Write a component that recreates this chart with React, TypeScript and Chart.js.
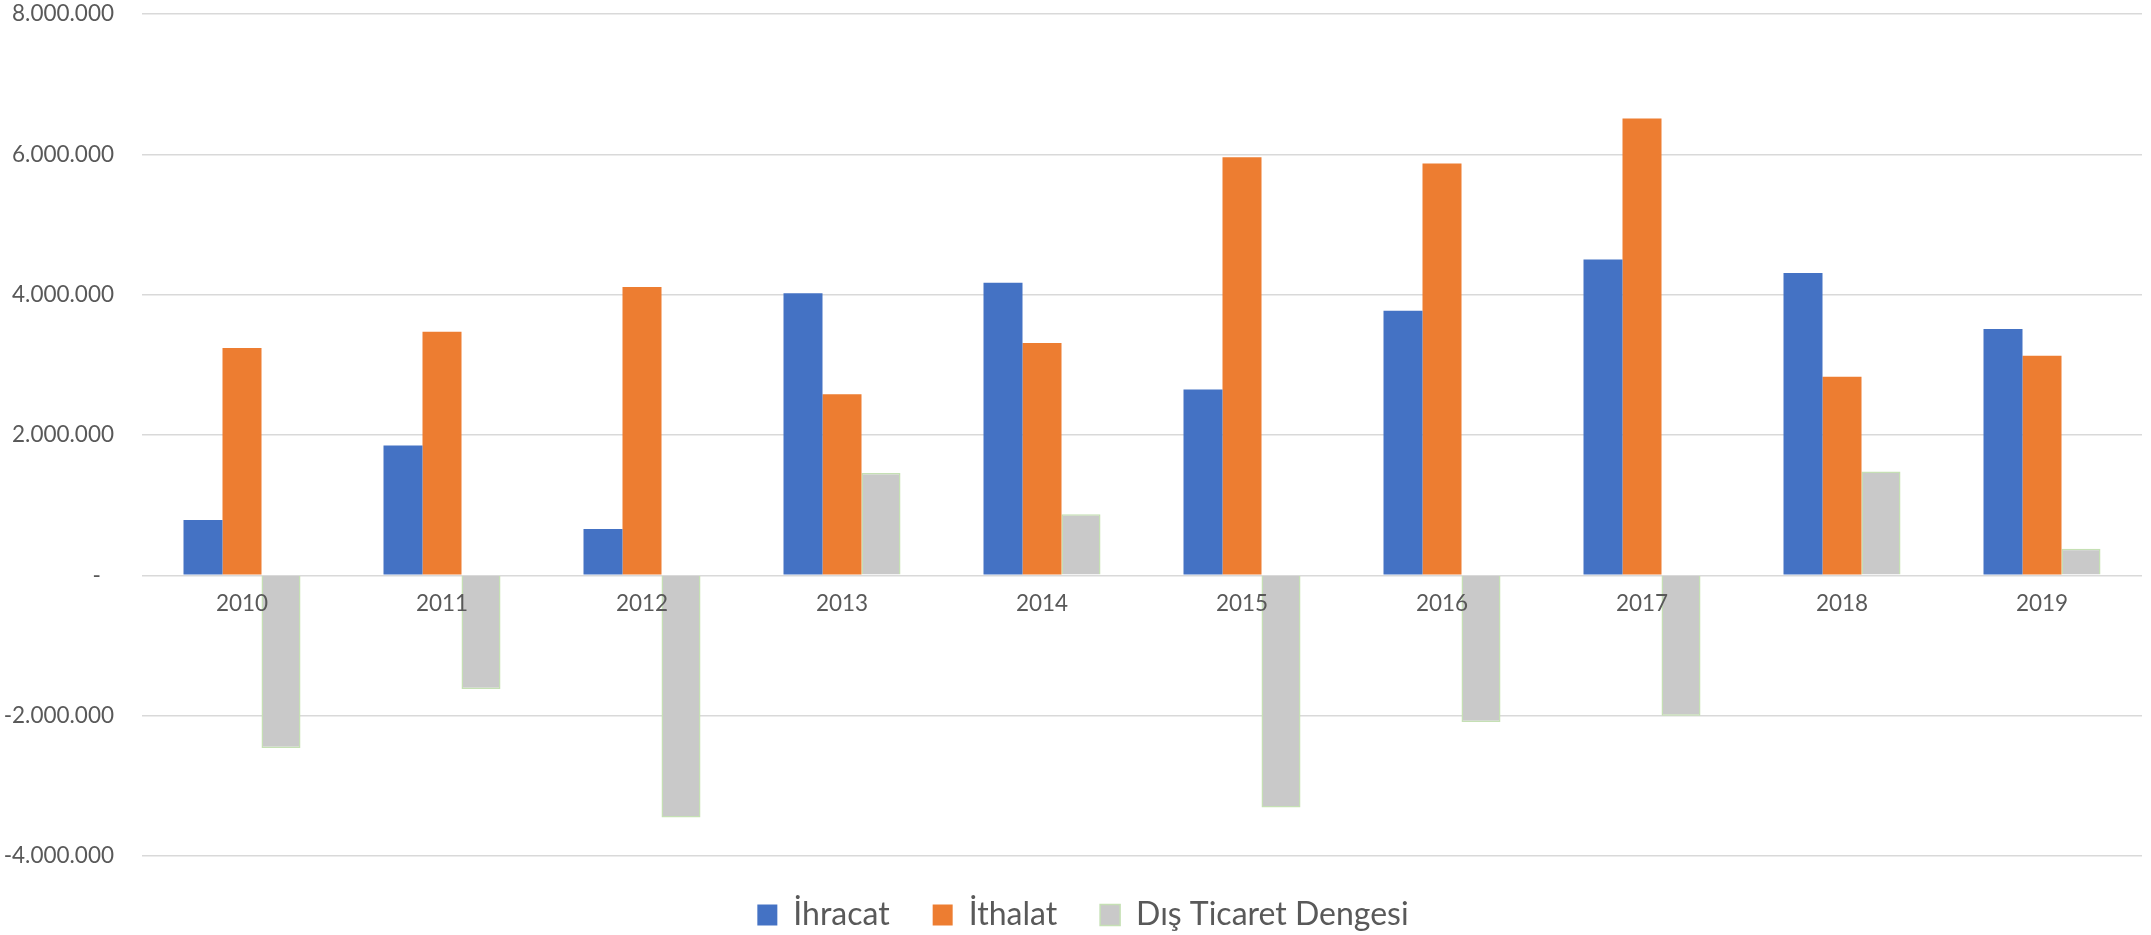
import React, { useEffect, useRef } from "react";
import { Chart, registerables } from "chart.js";

Chart.register(...registerables);

const years = ["2010", "2011", "2012", "2013", "2014", "2015", "2016", "2017", "2018", "2019"];
const ihracat = [790000, 1850000, 660000, 4020000, 4170000, 2650000, 3770000, 4500000, 4310000, 3510000];
const ithalat = [3240000, 3470000, 4110000, 2580000, 3310000, 5960000, 5870000, 6510000, 2830000, 3130000];
const denge = [-2460000, -1620000, -3450000, 1460000, 870000, -3310000, -2090000, -2000000, 1480000, 380000];
const seriesNames = ["İhracat", "İthalat", "Dış Ticaret Dengesi"];

const FONT = "Lato, 'Open Sans', 'Liberation Sans', sans-serif";
const TEXT = "#595959";

function fmt(v: number): string {
  if (v === 0) return "-\u2007";
  const s = Math.abs(v).toString().replace(/\B(?=(\d{3})+(?!\d))/g, ".");
  return (v < 0 ? "-" : "") + s;
}

const legendShift = {
  id: "legendShift",
  afterLayout(chart: any) {
    if (chart.legend) {
      chart.legend.left += 12;
      chart.legend.right += 12;
    }
  },
};

export default function App() {
  const ref = useRef<HTMLCanvasElement | null>(null);
  useEffect(() => {
    document.body.style.margin = "0";
    document.body.style.overflow = "hidden";
    if (!ref.current) return;
    const chart = new Chart(ref.current, {
      type: "bar",
      data: {
        labels: years,
        datasets: [
          { label: seriesNames[0], data: ihracat, backgroundColor: "#4472C4", borderWidth: 0 },
          { label: seriesNames[1], data: ithalat, backgroundColor: "#ED7D31", borderWidth: 0 },
          { label: seriesNames[2], data: denge, backgroundColor: "#C9C9C9", borderColor: "#C5E0B4", borderWidth: 1.5 },
        ],
      },
      plugins: [legendShift],
      options: {
        responsive: false,
        animation: false,
        devicePixelRatio: 1,
        layout: { padding: { top: 14, right: 9, bottom: -6, left: 0 } },
        datasets: { bar: { categoryPercentage: 0.585, barPercentage: 1 } },
        plugins: {
          tooltip: { enabled: false },
          legend: {
            position: "bottom",
            labels: {
              boxWidth: 20,
              boxHeight: 21,
              padding: 43,
              color: TEXT,
              font: { family: FONT, size: 32 },
            },
          },
        },
        scales: {
          x: {
            position: { y: 0 } as any,
            grid: { display: false },
            border: { display: false },
            ticks: { z: 1, color: TEXT, font: { family: FONT, size: 22.5 }, padding: 7, maxRotation: 0 },
          },
          y: {
            min: -4000000,
            max: 8000000,
            border: { display: false },
            grid: { color: "#D9D9D9", lineWidth: 1.5, drawTicks: true, tickLength: 28, tickColor: "rgba(0,0,0,0)" },
            ticks: {
              stepSize: 2000000,
              color: TEXT,
              padding: 0,
              font: { family: FONT, size: 22.5 },
              callback: (v: any) => fmt(Number(v)),
            },
            afterFit: (scale: any) => {
              scale.width = 142;
            },
          },
        },
      },
    });
    return () => chart.destroy();
  }, []);
  return (
    <div style={{ width: 2151, height: 935, background: "#fff" }}>
      <canvas ref={ref} width={2151} height={935} />
    </div>
  );
}
